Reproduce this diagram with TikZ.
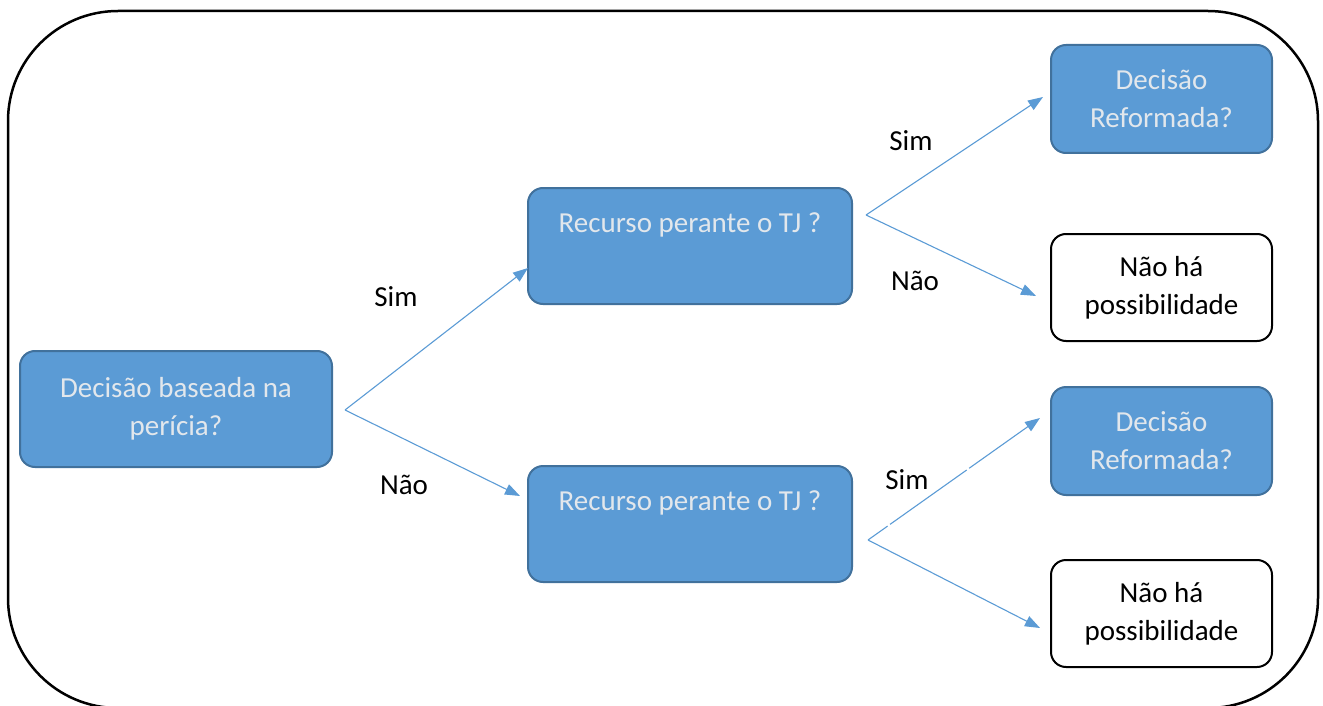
\documentclass[tikz,border=0pt]{standalone}
\usepackage{fontspec}
\setmainfont{Carlito}
\usetikzlibrary{arrows.meta}
\definecolor{boxfill}{HTML}{5B9BD5}
\definecolor{boxline}{HTML}{41719C}
\definecolor{boxtext}{RGB}{226,231,236}
\definecolor{conn}{HTML}{5B9BD5}
\tikzset{
  bluebox/.style={draw=boxline, line width=2pt, fill=boxfill, rounded corners=15pt, align=center, text=boxtext, inner sep=0pt},
  whitebox/.style={draw=black, line width=2pt, fill=white, rounded corners=15pt, align=center, text=black, inner sep=0pt},
  conn/.style={draw=conn, line width=1.1pt, -{Triangle[length=15pt,width=11pt]}},
  lbl/.style={text=black, inner sep=0pt},
}
\begin{document}
\begin{tikzpicture}[x=1pt,y=-1pt,font=\fontsize{29}{38}\selectfont]
\useasboundingbox (0,0) rectangle (1323,706);
\clip (0,0) rectangle (1323,706);
\draw[line width=2.5pt, rounded corners=110pt] (8,11) rectangle (1318,708);

\node[bluebox, minimum width=312pt, minimum height=116pt] (A) at (176,409) {Decisão baseada na\\perícia?};
\node[bluebox, minimum width=324pt, minimum height=116pt] (B1) at (690,246) {Recurso perante o TJ ?\\[8pt] ~};
\node[bluebox, minimum width=324pt, minimum height=116pt] (B2) at (690,524) {Recurso perante o TJ ?\\[8pt] ~};
\node[bluebox, minimum width=221pt, minimum height=108pt] (C1) at (1161.5,99) {Decisão\\Reformada?};
\node[whitebox, minimum width=221pt, minimum height=107pt] (D1) at (1161.5,287.5) {Não há\\possibilidade};
\node[bluebox, minimum width=221pt, minimum height=108pt] (C2) at (1161.5,441) {Decisão\\Reformada?};
\node[whitebox, minimum width=221pt, minimum height=107pt] (D2) at (1161.5,613.5) {Não há\\possibilidade};

\coordinate (sA) at (345,410);
\coordinate (sB1) at (866,215);
\coordinate (sB2) at (868,540);
\coordinate (tB1) at (528,268);
\coordinate (tB2) at (520,496);
\coordinate (tC1) at (1043,97);
\coordinate (tD1) at (1036,296);
\coordinate (tC2) at (1040,418);
\coordinate (tD2) at (1040,628);

\draw[conn] (sA) -- (tB1);
\draw[conn] (sA) -- (tB2);
\draw[conn] (sB1) -- (tC1);
\draw[conn] (sB1) -- (tD1);
\draw[conn, dash pattern=on 24pt off 3pt on 94pt off 3pt on 300pt] (sB2) -- (tC2);
\draw[conn] (sB2) -- (tD2);

\node[lbl] (l1) at (396,297) {Sim};
\node[lbl] (l2) at (404,485) {Não};
\node[lbl] (l3) at (911,141) {Sim};
\node[lbl] (l4) at (915,281) {Não};
\node[lbl] (l5) at (907,480) {Sim};
\end{tikzpicture}
\end{document}
